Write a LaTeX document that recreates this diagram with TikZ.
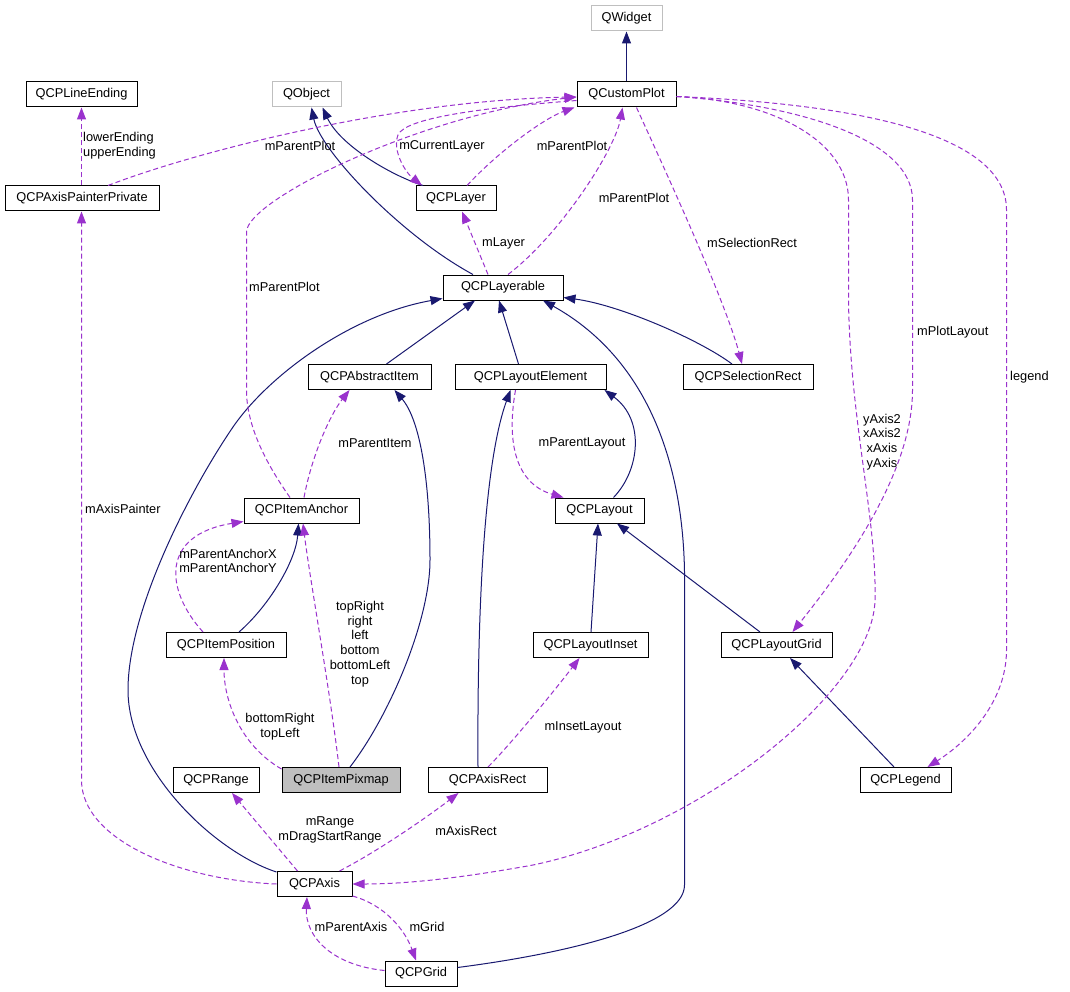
\documentclass[tikz,border=0pt]{standalone}
\usepackage{fontspec}
\setmainfont{Liberation Sans}
\usetikzlibrary{arrows.meta}
\definecolor{inhcol}{HTML}{191970}
\definecolor{usecol}{HTML}{9A32CD}
\definecolor{graycol}{HTML}{BFBFBF}
\tikzset{
  cls/.style={draw=black, line width=1pt, minimum height=25pt, inner sep=0pt, fill=white,
    font=\fontsize{12.8}{14.8}\selectfont},
  ext/.style={cls, draw=graycol},
  cur/.style={cls, fill=graycol},
  inh/.style={draw=inhcol, line width=1pt, -{Triangle[length=12pt,width=9pt]}},
  use/.style={draw=usecol, line width=1pt, dash pattern=on 5pt off 3pt, -{Triangle[length=12pt,width=9pt]}},
  lbl/.style={inner sep=0pt, align=center, font=\fontsize{12.8}{14.8}\selectfont},
  lbll/.style={lbl, anchor=west, align=left}
}
\begin{document}
\begin{tikzpicture}[x=1pt, y=-1pt]
\useasboundingbox[fill=white] (0,0) rectangle (1070,992);
% nodes
\node[ext, minimum width=71pt] (QWidget) at (626.5,18.5) {QWidget};
\node[cls, minimum width=99pt] (QCustomPlot) at (626.5,94.5) {QCustomPlot};
\node[cls, minimum width=111pt] (QCPLineEnding) at (81.5,94.5) {QCPLineEnding};
\node[ext, minimum width=69pt] (QObject) at (306.5,94.5) {QObject};
\node[cls, minimum width=154pt] (QCPAxisPainterPrivate) at (82,198.5) {QCPAxisPainterPrivate};
\node[cls, minimum width=80pt] (QCPLayer) at (456,198.5) {QCPLayer};
\node[cls, minimum width=120pt] (QCPLayerable) at (503,287.5) {QCPLayerable};
\node[cls, minimum width=123pt] (QCPAbstractItem) at (369.5,377) {QCPAbstractItem};
\node[cls, minimum width=151pt] (QCPLayoutElement) at (530.5,377) {QCPLayoutElement};
\node[cls, minimum width=130pt] (QCPSelectionRect) at (748,377) {QCPSelectionRect};
\node[cls, minimum width=115pt] (QCPItemAnchor) at (301.5,510.5) {QCPItemAnchor};
\node[cls, minimum width=89pt] (QCPLayout) at (599.5,510.5) {QCPLayout};
\node[cls, minimum width=120pt] (QCPItemPosition) at (226,645) {QCPItemPosition};
\node[cls, minimum width=115pt] (QCPLayoutInset) at (590.5,645) {QCPLayoutInset};
\node[cls, minimum width=111pt] (QCPLayoutGrid) at (776.5,645) {QCPLayoutGrid};
\node[cls, minimum width=86pt] (QCPRange) at (216,780) {QCPRange};
\node[cur, minimum width=118pt] (QCPItemPixmap) at (341,780) {QCPItemPixmap};
\node[cls, minimum width=119pt] (QCPAxisRect) at (487.5,780) {QCPAxisRect};
\node[cls, minimum width=91pt] (QCPLegend) at (905.5,780) {QCPLegend};
\node[cls, minimum width=75pt] (QCPAxis) at (314.5,884) {QCPAxis};
\node[cls, minimum width=72pt] (QCPGrid) at (421,973.5) {QCPGrid};

% inheritance edges
\draw[inh] (QCustomPlot) -- (QWidget);
\draw[inh] ([xshift=-33pt]QCPLayer.north) .. controls (390,175) and (340,145) .. ([xshift=16pt]QObject.south);
\draw[inh] ([xshift=-30pt]QCPLayerable.north) .. controls (400,235) and (320,150) .. ([xshift=5pt]QObject.south);
\draw[inh] ([xshift=17pt]QCPAbstractItem.north) -- ([xshift=-28pt]QCPLayerable.south);
\draw[inh] ([xshift=-12pt]QCPLayoutElement.north) -- ([xshift=-4pt]QCPLayerable.south);
\draw[inh] ([xshift=-16pt]QCPSelectionRect.north) .. controls (700,340) and (620,305) .. ([yshift=3pt]QCPLayerable.south east);
\draw[inh] ([yshift=-1pt]QCPAxis.north west) .. controls (215,852) and (128,770) .. (128,690)
  .. controls (128,610) and (190,490) .. (233,427)
  .. controls (268,376) and (350,315) .. ([yshift=2pt]QCPLayerable.south west);
\draw[inh] ([yshift=6pt]QCPGrid.east) .. controls (570,953) and (684.5,925) .. (684.5,885)
  -- (684.5,590) .. controls (686.5,470) and (650,360) .. ([xshift=40pt]QCPLayerable.south);
\draw[inh] ([xshift=9pt]QCPItemPixmap.north) .. controls (390,715) and (430,620) .. (430,560)
  .. controls (430,480) and (420,420) .. ([xshift=25pt]QCPAbstractItem.south);
\draw[inh] ([xshift=13pt]QCPItemPosition.north) .. controls (270,605) and (296,560) .. ([xshift=-3pt]QCPItemAnchor.south);
\draw[inh] ([xshift=14pt]QCPLayout.north) .. controls (640,470) and (645,420) .. ([xshift=-2pt]QCPLayoutElement.south east);
\draw[inh] ([xshift=-9.5pt]QCPAxisRect.north) .. controls (477,600) and (485,460) .. ([xshift=-20pt]QCPLayoutElement.south);
\draw[inh] ([xshift=0.5pt]QCPLayoutInset.north) -- ([xshift=-1.5pt]QCPLayout.south);
\draw[inh] ([xshift=-16.5pt]QCPLayoutGrid.north) -- ([xshift=17.5pt]QCPLayout.south);
\draw[inh] ([xshift=-11.5pt]QCPLegend.north) -- ([xshift=13.5pt]QCPLayoutGrid.south);

% usage edges
\draw[use] ([xshift=-0.5pt]QCPAxisPainterPrivate.north) -- (QCPLineEnding.south);
\draw[use] ([xshift=26pt]QCPAxisPainterPrivate.north) .. controls (200,150) and (400,100) .. ([yshift=-2.5pt]QCustomPlot.west);
\draw[use] ([xshift=11pt]QCPLayer.north) .. controls (500,150) and (545,118) .. ([xshift=-52pt]QCustomPlot.south);
\draw[use] ([yshift=-6pt]QCustomPlot.west) .. controls (480,108) and (405,118) .. (398,135)
  .. controls (392,150) and (405,172) .. ([xshift=-34pt]QCPLayer.north);
\draw[use] ([xshift=-11.5pt]QCPItemAnchor.north) .. controls (265,462) and (246.5,425) .. (246.5,390)
  -- (246.5,232) .. controls (246.5,200) and (420,115) .. ([yshift=-2.5pt]QCustomPlot.west);
\draw[use] ([xshift=5pt]QCPLayerable.north) .. controls (560,235) and (615,150) .. ([xshift=-4pt]QCustomPlot.south);
\draw[use] ([xshift=-15pt]QCPLayerable.north) -- ([xshift=6pt]QCPLayer.south);
\draw[use] ([xshift=10pt]QCustomPlot.south) .. controls (665,170) and (725,300) .. ([xshift=-6pt]QCPSelectionRect.north);
\draw[use] ([yshift=-2pt]QCustomPlot.east) .. controls (770,100) and (848.5,140) .. (848.5,200)
  -- (848.5,300) .. controls (850,420) and (877,520) .. (875,600)
  .. controls (873,690) and (700,830) .. (533,865)
  .. controls (450,880) and (400,884) .. (QCPAxis.east);
\draw[use] ([yshift=-2pt]QCustomPlot.east) .. controls (800,105) and (912.5,140) .. (912.5,200)
  -- (912.5,390) .. controls (912.5,470) and (850,560) .. ([xshift=16pt]QCPLayoutGrid.north);
\draw[use] ([yshift=-2pt]QCustomPlot.east) .. controls (880,105) and (1006.5,140) .. (1006.5,210)
  -- (1006.5,650) .. controls (1006.5,700) and (970,740) .. ([xshift=22pt]QCPLegend.north);
\draw[use] ([xshift=2.5pt]QCPItemAnchor.north) .. controls (312,455) and (330,415) .. ([xshift=-20pt]QCPAbstractItem.south);
\draw[use] ([xshift=-23pt]QCPItemPosition.north) .. controls (165,590) and (160,535) .. ([yshift=2pt]QCPItemAnchor.south west);
\draw[use] ([xshift=-2pt]QCPItemPixmap.north) .. controls (330,690) and (310,580) .. ([xshift=1.5pt]QCPItemAnchor.south);
\draw[use] ([yshift=-2pt]QCPItemPixmap.north west) .. controls (240,745) and (224,700) .. ([xshift=-2pt]QCPItemPosition.south);
\draw[use] ([xshift=-17pt]QCPAxis.north) -- ([xshift=16pt]QCPRange.south);
\draw[use] ([xshift=25pt]QCPAxis.north) .. controls (380,850) and (430,815) .. ([xshift=-29pt]QCPAxisRect.south);
\draw[use] (QCPAxis.west) .. controls (180,880) and (81.5,840) .. (81.5,780) -- ([xshift=-0.5pt]QCPAxisPainterPrivate.south);
\draw[use] ([yshift=1pt]QCPAxis.south east) .. controls (385,905) and (405,930) .. ([xshift=-5pt]QCPGrid.north);
\draw[use] ([yshift=3pt]QCPGrid.west) .. controls (330,965) and (305,935) .. ([xshift=-7.5pt]QCPAxis.south);
\draw[use] ([xshift=-15pt]QCPLayoutElement.south) .. controls (505,450) and (520,485) .. ([xshift=-36pt]QCPLayout.north);
\draw[use] ([xshift=0.5pt]QCPAxisRect.north) .. controls (510,745) and (555,690) .. ([xshift=-11pt]QCPLayoutInset.south);

% labels
\node[lbll] (l1) at (83,145.5) {lowerEnding\\upperEnding};
\node[lbl] (l2) at (300,146) {mParentPlot};
\node[lbl] (l3) at (442,146) {mCurrentLayer};
\node[lbl] (l4) at (572,146) {mParentPlot};
\node[lbl] (l5) at (634,198) {mParentPlot};
\node[lbll] (l6) at (482,243) {mLayer};
\node[lbll] (l7) at (707,243) {mSelectionRect};
\node[lbll] (l8) at (249,287) {mParentPlot};
\node[lbll] (l9) at (917,332) {mPlotLayout};
\node[lbll] (l10) at (1010,377) {legend};
\node[lbl] (l11) at (375,443) {mParentItem};
\node[lbl] (l12) at (582,443) {mParentLayout};
\node[lbl] (l13) at (882,442) {yAxis2\\xAxis2\\xAxis\\yAxis};
\node[lbll] (l14) at (85,509) {mAxisPainter};
\node[lbl] (l15) at (228,561) {mParentAnchorX\\mParentAnchorY};
\node[lbl] (l16) at (360,644) {topRight\\right\\left\\bottom\\bottomLeft\\top};
\node[lbl] (l17) at (280,727) {bottomRight\\topLeft};
\node[lbl] (l18) at (583,727) {mInsetLayout};
\node[lbl] (l19) at (330,830) {mRange\\mDragStartRange};
\node[lbl] (l20) at (466,831) {mAxisRect};
\node[lbl] (l21) at (351,927) {mParentAxis};
\node[lbl] (l22) at (427,927) {mGrid};
\end{tikzpicture}
\end{document}
